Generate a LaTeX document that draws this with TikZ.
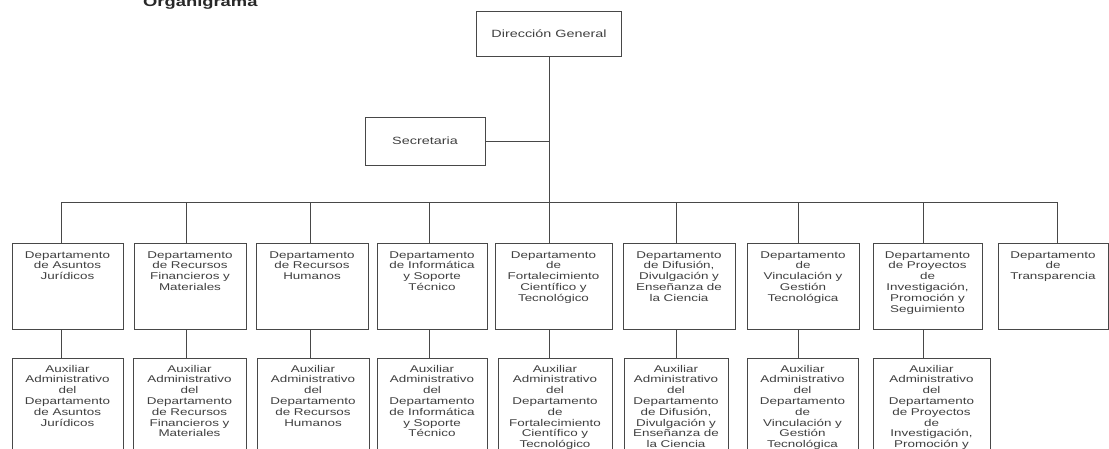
\documentclass[tikz,border=0pt]{standalone}
\usepackage{fontspec}
\setmainfont{Liberation Sans}[FakeStretch=1.37]
\definecolor{linecol}{HTML}{484848}
\definecolor{txtcol}{HTML}{404040}
\definecolor{titlecol}{HTML}{282828}
\newcommand\boxtext[4]{\parbox[c][#2][t]{#1}{\fontsize{9.8}{10.8}\selectfont\centering\rule{0pt}{#3}#4}}
\tikzset{
  orgbox/.style={draw=linecol, line width=1pt, inner sep=0pt, text=txtcol, fill=white},
  conn/.style={draw=linecol, line width=1pt},
}
\begin{document}
\begin{tikzpicture}[x=1pt,y=-1pt]
\useasboundingbox (0,0) rectangle (1109,448);
\clip (0,0) rectangle (1109,448);
\fill[white] (0,0) rectangle (1109,448);

\node[anchor=base west, inner sep=0pt, text=titlecol, font=\fontsize{13.4}{14}\selectfont\bfseries] (title) at (143,6) {Organigrama};

\node[orgbox, minimum width=145pt, minimum height=45pt, font=\fontsize{10.5}{12}\selectfont] (dg) at (549,33.5) {Dirección General};
\node[orgbox, minimum width=120pt, minimum height=48pt, font=\fontsize{10.5}{12}\selectfont] (sec) at (425,141) {Secretaria};

% departments
\node[orgbox] (dep1) at (67.5,286) {\boxtext{111pt}{86pt}{15pt}{Departamento\\de Asuntos\\Jurídicos}};
\node[orgbox] (dep2) at (190,286) {\boxtext{112pt}{86pt}{15pt}{Departamento\\de Recursos\\Financieros y\\Materiales}};
\node[orgbox] (dep3) at (312,286) {\boxtext{112pt}{86pt}{15pt}{Departamento\\de Recursos\\Humanos}};
\node[orgbox] (dep4) at (432,286) {\boxtext{110pt}{86pt}{15pt}{Departamento\\de Informática\\y Soporte\\Técnico}};
\node[orgbox] (dep5) at (553.5,286) {\boxtext{117pt}{86pt}{15pt}{Departamento\\de\\Fortalecimiento\\Científico y\\Tecnológico}};
\node[orgbox] (dep6) at (679,286) {\boxtext{112pt}{86pt}{15pt}{Departamento\\de Difusión,\\Divulgación y\\Enseñanza de\\la Ciencia}};
\node[orgbox] (dep7) at (803,286) {\boxtext{112pt}{86pt}{15pt}{Departamento\\de\\Vinculación y\\Gestión\\Tecnológica}};
\node[orgbox] (dep8) at (927.5,286) {\boxtext{109pt}{86pt}{15pt}{Departamento\\de Proyectos\\de\\Investigación,\\Promoción y\\Seguimiento}};
\node[orgbox] (dep9) at (1053,286) {\boxtext{110pt}{86pt}{15pt}{Departamento\\de\\Transparencia}};

% auxiliaries
\node[orgbox] (aux1) at (67.5,414) {\boxtext{111pt}{112pt}{14pt}{Auxiliar\\Administrativo\\del\\Departamento\\de Asuntos\\Jurídicos}};
\node[orgbox] (aux2) at (189.5,414) {\boxtext{113pt}{112pt}{14pt}{Auxiliar\\Administrativo\\del\\Departamento\\de Recursos\\Financieros y\\Materiales}};
\node[orgbox] (aux3) at (313,414) {\boxtext{112pt}{112pt}{14pt}{Auxiliar\\Administrativo\\del\\Departamento\\de Recursos\\Humanos}};
\node[orgbox] (aux4) at (432,414) {\boxtext{110pt}{112pt}{14pt}{Auxiliar\\Administrativo\\del\\Departamento\\de Informática\\y Soporte\\Técnico}};
\node[orgbox] (aux5) at (555,414) {\boxtext{114pt}{112pt}{14pt}{Auxiliar\\Administrativo\\del\\Departamento\\de\\Fortalecimiento\\Científico y\\Tecnológico}};
\node[orgbox] (aux6) at (676,414) {\boxtext{104pt}{112pt}{14pt}{Auxiliar\\Administrativo\\del\\Departamento\\de Difusión,\\Divulgación y\\Enseñanza de\\la Ciencia}};
\node[orgbox] (aux7) at (802.5,414) {\boxtext{111pt}{112pt}{14pt}{Auxiliar\\Administrativo\\del\\Departamento\\de\\Vinculación y\\Gestión\\Tecnológica}};
\node[orgbox] (aux8) at (931.5,414) {\boxtext{117pt}{112pt}{14pt}{Auxiliar\\Administrativo\\del\\Departamento\\de Proyectos\\de\\Investigación,\\Promoción y\\Seguimiento}};

% connectors
\coordinate (j) at (549,202);
\coordinate (d1) at (61,202);
\coordinate (d2) at (186,202);
\coordinate (d3) at (310,202);
\coordinate (d4) at (429,202);
\coordinate (d5) at (549,202);
\coordinate (d6) at (676,202);
\coordinate (d7) at (798,202);
\coordinate (d8) at (923,202);
\coordinate (d9) at (1057,202);

\draw[conn] (dg.south) -- (j);
\draw[conn] (sec.east) -- (sec.east -| j);
\draw[conn] (d1) -- (d9);
\foreach \i in {1,...,9} {
  \draw[conn] (d\i) -- (d\i |- dep\i.north);
}
\foreach \i in {1,...,8} {
  \draw[conn] (d\i |- dep\i.south) -- (d\i |- aux\i.north);
}
\end{tikzpicture}
\end{document}
